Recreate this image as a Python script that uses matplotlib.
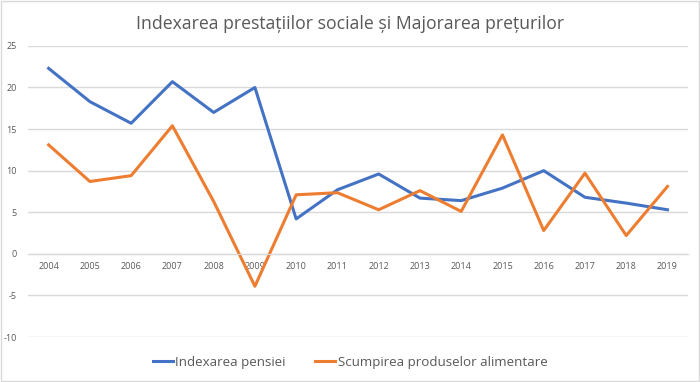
import matplotlib.pyplot as plt
from matplotlib.patches import Rectangle

# Data
years = list(range(2004, 2020))
pensii = [22.3, 18.3, 15.7, 20.7, 17.0, 20.0, 4.2, 7.7, 9.6, 6.7, 6.4, 7.9, 10.0, 6.8, 6.1, 5.3]
alimente = [13.1, 8.7, 9.4, 15.4, 6.3, -3.9, 7.1, 7.35, 5.3, 7.6, 5.1, 14.3, 2.8, 9.7, 2.2, 8.1]
labels = ['Indexarea pensiei', 'Scumpirea produselor alimentare']

plt.rcParams['font.family'] = ['Open Sans', 'DejaVu Sans']
plt.rcParams['axes.unicode_minus'] = False
grey = '#595959'

fig = plt.figure(figsize=(7, 3.82), dpi=100)
ax = fig.add_axes([0.04, 0.1178, 0.943, 0.762])

ax.plot(years, pensii, color='#4472C4', lw=2.2, label=labels[0])
ax.plot(years, alimente, color='#ED7D31', lw=2.2, label=labels[1])

ax.set_xlim(2003.5, 2019.5)
ax.set_ylim(-10, 25)
ax.set_yticks(range(-10, 26, 5))
ax.set_xticks(years)
ax.grid(axis='y', color='#d9d9d9', lw=1)
ax.set_axisbelow(True)

for s in ['top', 'right', 'left']:
    ax.spines[s].set_visible(False)
ax.spines['bottom'].set_position(('data', 0))
ax.spines['bottom'].set_color('#d9d9d9')

ax.tick_params(axis='both', length=0, labelsize=6.5, labelcolor=grey)
ax.tick_params(axis='x', pad=6)
ax.tick_params(axis='y', pad=8)

fig.suptitle('Indexarea prestațiilor sociale și Majorarea prețurilor',
             y=0.96, fontsize=12.7, color=grey)

fig.legend(loc='center', bbox_to_anchor=(0.5, 0.052), ncol=2, frameon=False,
           fontsize=9.6, labelcolor=grey, handlelength=1.5, handletextpad=0.2,
           columnspacing=2.2)

fig.patches.append(Rectangle((0.001, 0.002), 0.997, 0.995, transform=fig.transFigure,
                             fill=False, edgecolor='#d9d9d9', lw=1))

fig.savefig('out.png', dpi=100)
